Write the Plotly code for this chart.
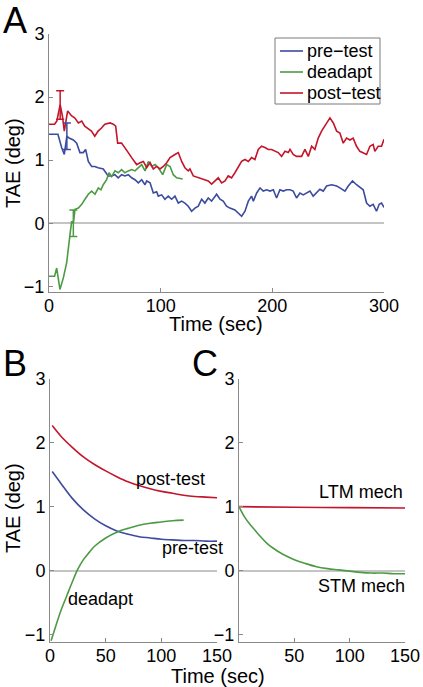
import plotly.graph_objects as go

# ---------------- Panel A data ----------------
pre_t = [0, 8, 11.3, 13.7, 16, 18, 21.8, 24.8, 27.7, 30.7, 32.8, 35.2, 38.2, 41, 44, 48.6, 53, 56, 59, 62, 65, 68, 71, 74, 77, 80, 83, 86, 87.5, 90.5, 93.4, 96.4, 97.9, 100.9, 103.8, 106.8, 109.8, 112.8, 115.8, 118.8, 121.7, 124.7, 127.7, 130.7, 133.7, 136.7, 139.6, 142.6, 145.6, 150.1, 153.1, 156, 159, 162, 166.5, 169.5, 172.5, 175.5, 178.5, 181.4, 183, 186, 189, 191.9, 194.9, 197.9, 200.9, 203.8, 206.8, 209.8, 212.8, 215.8, 218.7, 221.7, 224.7, 227.7, 230.7, 233.7, 236.6, 239.6, 242.6, 245.6, 248.6, 253.1, 257.6, 260.5, 265, 268, 271.8, 275.4, 279.9, 281.4, 284.4, 287.4, 290.3, 293.3, 295.7, 297.8, 300]
pre_v = [1.41, 1.41, 1.20, 1.09, 1.38, 1.35, 1.32, 1.27, 1.12, 1.12, 1.17, 0.98, 0.90, 0.90, 0.88, 0.86, 0.75, 0.75, 0.77, 0.72, 0.77, 0.75, 0.77, 0.72, 0.69, 0.64, 0.69, 0.61, 0.67, 0.64, 0.48, 0.50, 0.43, 0.45, 0.38, 0.43, 0.38, 0.43, 0.32, 0.35, 0.32, 0.27, 0.19, 0.24, 0.27, 0.38, 0.32, 0.40, 0.35, 0.46, 0.38, 0.35, 0.27, 0.24, 0.21, 0.16, 0.11, 0.19, 0.35, 0.43, 0.35, 0.48, 0.56, 0.51, 0.53, 0.51, 0.53, 0.40, 0.53, 0.51, 0.53, 0.53, 0.51, 0.40, 0.48, 0.45, 0.48, 0.51, 0.43, 0.48, 0.54, 0.51, 0.59, 0.61, 0.59, 0.56, 0.51, 0.59, 0.67, 0.61, 0.56, 0.53, 0.32, 0.27, 0.30, 0.19, 0.30, 0.32, 0.25]

dead_t = [0, 5, 6.9, 9.8, 12.8, 15.8, 18.8, 20.3, 21.8, 23.3, 26.3, 29.3, 32.2, 35.2, 38.2, 41.2, 44.2, 46.5, 48.6, 51.6, 53.7, 56.1, 59.1, 62, 65, 68, 71, 74, 77, 80, 83, 86, 89, 92, 95, 97.9, 101.8, 105.4, 108.4, 111.3, 114.3, 119.7]
dead_v = [-0.84, -0.84, -0.71, -1.05, -0.87, -0.63, -0.18, 0.03, 0.0, 0.22, 0.24, 0.30, 0.38, 0.46, 0.51, 0.46, 0.56, 0.53, 0.61, 0.69, 0.80, 0.74, 0.83, 0.80, 0.85, 0.80, 0.83, 0.85, 0.83, 0.88, 0.93, 0.83, 0.98, 0.90, 0.93, 0.88, 0.77, 0.93, 0.90, 0.77, 0.72, 0.70]

post_t = [0, 5, 7, 10, 12, 13.7, 16.7, 20.3, 23, 26.3, 29.3, 32, 35, 38, 41, 44, 47, 50, 54.6, 57.6, 59.7, 61.5, 65, 68, 71, 74, 78.5, 81.5, 84.5, 87.5, 90.5, 93.4, 96.4, 99.4, 102.4, 105.4, 108.4, 112.8, 115.8, 118.8, 121.7, 124.7, 126.2, 129.2, 133.7, 138.1, 142.6, 145.6, 148.6, 151.6, 154.6, 157.6, 160.5, 163.5, 166.5, 169.5, 172.5, 175.5, 178.5, 181.4, 184.4, 187.4, 190.4, 193.4, 196.3, 199.3, 202.3, 205.3, 208.3, 211.3, 214.3, 215.8, 218.7, 221.7, 226.2, 229.2, 232.2, 235.2, 238.1, 241.1, 244.1, 247.1, 250.1, 251.6, 254.6, 257.6, 260.5, 263.5, 266.5, 269.5, 272.4, 275.4, 278.4, 281.4, 284.4, 287.4, 290.3, 291.8, 294.8, 297.8, 300]
post_v = [1.57, 1.57, 1.62, 1.88, 1.70, 1.46, 1.78, 1.70, 1.67, 1.59, 1.62, 1.54, 1.50, 1.46, 1.38, 1.46, 1.51, 1.57, 1.59, 1.57, 1.54, 1.27, 1.27, 1.20, 1.12, 1.04, 0.93, 0.96, 0.98, 0.88, 0.96, 0.86, 0.90, 0.86, 0.90, 0.96, 1.04, 1.09, 1.12, 0.98, 0.88, 0.83, 0.86, 0.75, 0.72, 0.69, 0.67, 0.62, 0.67, 0.72, 0.64, 0.67, 0.75, 0.72, 0.80, 0.88, 0.98, 1.01, 0.98, 1.04, 1.01, 1.17, 1.22, 1.20, 1.17, 1.17, 1.14, 1.12, 1.06, 1.14, 1.12, 1.17, 1.09, 1.06, 1.06, 1.17, 1.06, 1.22, 1.17, 1.35, 1.46, 1.55, 1.62, 1.67, 1.59, 1.46, 1.43, 1.27, 1.35, 1.32, 1.35, 1.22, 1.14, 1.12, 1.09, 1.22, 1.25, 1.14, 1.22, 1.22, 1.33]

# error bars (time, mean, half-width) for pre-test, deadapt, post-test
err_t = [16, 21.8, 10]
err_v = [1.38, 0.0, 1.875]
err_e = [0.21, 0.21, 0.225]

series_names = ["pre\u2212test", "deadapt", "post\u2212test"]

# ---------------- Panel B data ----------------
fit_post_t = [2, 10, 20, 30, 40, 50, 60, 70, 80, 90, 100, 110, 120, 130, 140, 150]
fit_post_v = [2.27, 2.10, 1.93, 1.78, 1.66, 1.56, 1.47, 1.39, 1.33, 1.28, 1.24, 1.21, 1.18, 1.16, 1.15, 1.14]
fit_pre_t = [2, 10, 20, 30, 40, 50, 60, 70, 80, 90, 100, 110, 120, 130, 140, 150]
fit_pre_v = [1.55, 1.36, 1.13, 0.95, 0.81, 0.70, 0.62, 0.57, 0.53, 0.51, 0.49, 0.48, 0.47, 0.47, 0.46, 0.46]
fit_dead_t = [1, 5, 10, 15, 20, 25, 30, 35, 40, 50, 60, 70, 80, 90, 100, 110, 120]
fit_dead_v = [-1.10, -0.88, -0.62, -0.40, -0.18, 0.02, 0.17, 0.28, 0.38, 0.51, 0.60, 0.66, 0.71, 0.74, 0.76, 0.78, 0.79]

# ---------------- Panel C data ----------------
ltm_t = [0, 50, 100, 150]
ltm_v = [1.0, 0.99, 0.985, 0.98]
stm_t = [0, 5, 10, 15, 20, 25, 30, 40, 50, 60, 70, 80, 90, 100, 110, 120, 130, 140, 150]
stm_v = [1.0, 0.84, 0.72, 0.62, 0.52, 0.43, 0.36, 0.25, 0.17, 0.11, 0.06, 0.03, 0.01, -0.01, -0.03, -0.04, -0.04, -0.05, -0.05]

ticks_y = [-1, 0, 1, 2, 3]
ticks_xA = [0, 100, 200, 300]
ticks_xB = [0, 50, 100, 150]
ticktext_xC = ["", "50", "100", "150"]

BLUE = "#3b4ba0"
GREEN = "#4d9a45"
RED = "#c3162b"
AXC = "#8a8a8a"
FONT = "Liberation Sans, Arial, Helvetica, sans-serif"
W, H = 423, 687


def px(x):
    return x / W


def py(y):
    return 1 - y / H


fig = go.Figure()
lw = 1.6
colors = [BLUE, GREEN, RED]
for t, v, name, c in zip([pre_t, dead_t, post_t], [pre_v, dead_v, post_v], series_names, colors):
    fig.add_trace(go.Scatter(x=t, y=v, mode="lines", name=name, line=dict(color=c, width=lw),
                             showlegend=False, xaxis="x", yaxis="y"))
for t, v, e, c in zip(err_t, err_v, err_e, colors):
    fig.add_trace(go.Scatter(x=[t], y=[v], mode="markers", marker=dict(size=0.1, color=c, opacity=0),
                             error_y=dict(type="data", array=[e], color=c, thickness=1.5, width=4),
                             showlegend=False, xaxis="x", yaxis="y", hoverinfo="skip"))

fig.add_trace(go.Scatter(x=fit_post_t, y=fit_post_v, mode="lines", line=dict(color=RED, width=lw, shape="spline"), showlegend=False, xaxis="x2", yaxis="y2"))
fig.add_trace(go.Scatter(x=fit_pre_t, y=fit_pre_v, mode="lines", line=dict(color=BLUE, width=lw, shape="spline"), showlegend=False, xaxis="x2", yaxis="y2"))
fig.add_trace(go.Scatter(x=fit_dead_t, y=fit_dead_v, mode="lines", line=dict(color=GREEN, width=lw, shape="spline"), showlegend=False, xaxis="x2", yaxis="y2"))

fig.add_trace(go.Scatter(x=ltm_t, y=ltm_v, mode="lines", line=dict(color=RED, width=lw, shape="spline"), showlegend=False, xaxis="x3", yaxis="y3"))
fig.add_trace(go.Scatter(x=stm_t, y=stm_v, mode="lines", line=dict(color=GREEN, width=lw, shape="spline"), showlegend=False, xaxis="x3", yaxis="y3"))

tickfont = dict(family=FONT, size=18, color="black")
common_x = dict(showline=True, linecolor=AXC, linewidth=1, ticks="inside", ticklen=4, tickcolor=AXC,
                showgrid=False, zeroline=False, tickfont=tickfont, fixedrange=True, automargin=False,
                ticklabelstandoff=-3)
common_y = dict(showline=True, linecolor=AXC, linewidth=1, ticks="inside", ticklen=4, tickcolor=AXC,
                showgrid=False, zeroline=True, zerolinecolor="#c4c4c4", zerolinewidth=1.5,
                tickfont=tickfont, tickvals=ticks_y, fixedrange=True, automargin=False)

fig.update_layout(
    width=W, height=H, margin=dict(l=0, r=0, t=0, b=0, autoexpand=False),
    paper_bgcolor="white", plot_bgcolor="white",
    font=dict(family=FONT, size=18, color="black"),
    xaxis=dict(domain=[px(49), px(384)], range=[0, 300], tickvals=ticks_xA, anchor="y", **common_x),
    yaxis=dict(domain=[py(292), py(34)], range=[-1.09, 3], anchor="x", **common_y),
    xaxis2=dict(domain=[px(50), px(217)], range=[0, 150], tickvals=ticks_xB, anchor="y2", **common_x),
    yaxis2=dict(domain=[py(642), py(379)], range=[-1.12, 3], anchor="x2", **common_y),
    xaxis3=dict(domain=[px(239), px(405)], range=[0, 150], tickvals=ticks_xB, ticktext=ticktext_xC, anchor="y3", **common_x),
    yaxis3=dict(domain=[py(642), py(379)], range=[-1.12, 3], anchor="x3", **common_y),
    showlegend=False,
)

ann = []
shapes = []


def add_text(text, x, y, size, xanchor="center", yanchor="middle", angle=0):
    ann.append(dict(text=text, x=px(x), y=py(y), xref="paper", yref="paper", showarrow=False,
                    xanchor=xanchor, yanchor=yanchor, textangle=angle,
                    font=dict(family=FONT, size=size, color="black")))


add_text("A", 1, 20, 36, xanchor="left")
add_text("B", 1, 363, 36, xanchor="left")
add_text("C", 190, 363, 36, xanchor="left")
add_text("TAE (deg)", 13, 163, 20, angle=-90)
add_text("Time (sec)", 216, 324, 20)
add_text("TAE (deg)", 13, 508, 20, angle=-90)
add_text("Time (sec)", 218, 676, 20)
add_text("post-test", 170, 479, 18)
add_text("pre-test", 192, 548, 18)
add_text("deadapt", 100, 599, 18)
add_text("LTM mech", 361, 492, 18)
add_text("STM mech", 361, 586, 18)

# legend box (panel A)
shapes.append(dict(type="rect", xref="paper", yref="paper", x0=px(275), x1=px(380), y0=py(104), y1=py(38),
                   line=dict(color="#7a7a7a", width=1), fillcolor="white", layer="above"))
for i, (name, c) in enumerate(zip(series_names, colors)):
    yc = 51 + i * 21
    shapes.append(dict(type="line", xref="paper", yref="paper", x0=px(280), x1=px(303), y0=py(yc), y1=py(yc),
                       line=dict(color=c, width=1.6), layer="above"))
    add_text(name, 305, yc, 18, xanchor="left")

fig.update_layout(annotations=ann, shapes=shapes)

fig.write_html("out.html", config={"displayModeBar": False},
               post_script="document.body.style.margin='0px';")
